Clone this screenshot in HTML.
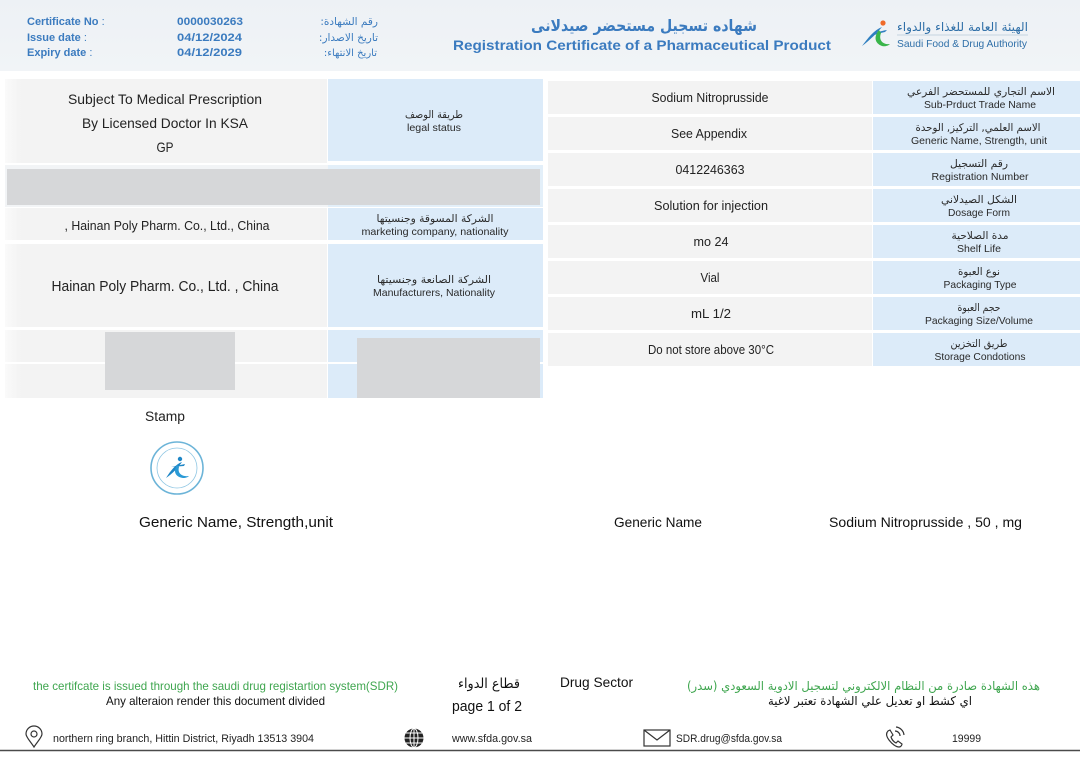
<!DOCTYPE html>
<html>
<head>
<meta charset="utf-8">
<style>
  html,body{margin:0;padding:0;background:#ffffff;}
  body{width:1080px;height:763px;overflow:hidden;}
  svg{display:block;}
  text{font-family:"Liberation Sans","DejaVu Sans",sans-serif;}
  .ar{font-family:"DejaVu Sans","Liberation Sans",sans-serif;}
</style>
</head>
<body>
<svg width="1080" height="763" viewBox="0 0 1080 763" xmlns="http://www.w3.org/2000/svg">
  <defs>
    <linearGradient id="hdr" x1="0" y1="0" x2="0" y2="1">
      <stop offset="0" stop-color="#edf1f5"/>
      <stop offset="1" stop-color="#f1f4f7"/>
    </linearGradient>
    <linearGradient id="fadeL" x1="0" y1="0" x2="1" y2="0">
      <stop offset="0" stop-color="#fafafa"/>
      <stop offset="0.05" stop-color="#f3f3f3"/>
      <stop offset="1" stop-color="#f3f3f3"/>
    </linearGradient>
  </defs>

  <rect x="0" y="0" width="1080" height="763" fill="#ffffff"/>

  <!-- HEADER -->
  <rect x="0" y="0" width="1080" height="71" fill="url(#hdr)"/>

  <g font-size="11" fill="#3b7bbf">
    <text x="27" y="25" font-weight="bold">Certificate No <tspan font-weight="normal">:</tspan></text>
    <text x="27" y="41" font-weight="bold">Issue date <tspan font-weight="normal">:</tspan></text>
    <text x="27" y="56" font-weight="bold">Expiry date <tspan font-weight="normal">:</tspan></text>
    <text x="177" y="25" font-weight="bold" textLength="66" lengthAdjust="spacingAndGlyphs">0000030263</text>
    <text x="177" y="41" font-weight="bold" textLength="65" lengthAdjust="spacingAndGlyphs">04/12/2024</text>
    <text x="177" y="56" font-weight="bold" textLength="65" lengthAdjust="spacingAndGlyphs">04/12/2029</text>
    <text class="ar" x="378" y="25" text-anchor="end" font-size="10.5">:رقم الشهادة</text>
    <text class="ar" x="378" y="41" text-anchor="end" font-size="10.5">:تاريخ الاصدار</text>
    <text class="ar" x="377" y="56" text-anchor="end" font-size="10">:تاريخ الانتهاء</text>
  </g>

  <text class="ar" x="644" y="31" text-anchor="middle" font-size="16" font-weight="bold" fill="#3b7bbf" textLength="226" lengthAdjust="spacingAndGlyphs">شهاده تسجيل مستحضر صيدلانى</text>
  <text x="642" y="50" text-anchor="middle" font-size="14" font-weight="bold" fill="#3b7bbf" textLength="378" lengthAdjust="spacingAndGlyphs">Registration Certificate of a Pharmaceutical Product</text>

  <!-- SFDA logo -->
  <g>
    <circle cx="883" cy="23" r="2.6" fill="#ef6a2a"/>
    <path d="M862 46 C868 38 874 30 882 27 C877 33 870 40 862 46 Z" fill="#2f7fc0"/>
    <path d="M870 36 C875 33 880 31 887 30 L885 32 C880 33 875 35 870 36 Z" fill="#2f7fc0"/>
    <path d="M879 30 C874 36 874 43 882 46 C886 47 889 45 890 44 C884 45 878 41 881 33 Z" fill="#39b54a"/>
    <text class="ar" x="1028" y="31" text-anchor="end" font-size="12" fill="#2f6fa8" textLength="131" lengthAdjust="spacingAndGlyphs">الهيئة العامة للغذاء والدواء</text>
    <line x1="897" y1="35" x2="1028" y2="35" stroke="#b9cad8" stroke-width="0.8"/>
    <text x="897" y="47" font-size="10.5" fill="#2f6fa8" textLength="130" lengthAdjust="spacingAndGlyphs">Saudi Food &amp; Drug Authority</text>
  </g>

  <!-- LEFT TABLE -->
  <rect x="5" y="79" width="322" height="84" fill="url(#fadeL)"/>
  <rect x="328" y="79" width="215" height="82" fill="#dcebf9"/>
  <rect x="5" y="165" width="538" height="42" fill="#f2f4f6"/>
  <rect x="328" y="165" width="215" height="42" fill="#e3eff9"/>
  <rect x="7" y="169" width="533" height="36" fill="#d6d7d9"/>
  <rect x="5" y="208" width="322" height="32" fill="url(#fadeL)"/>
  <rect x="328" y="208" width="215" height="32" fill="#dcebf9"/>
  <rect x="5" y="244" width="322" height="83" fill="url(#fadeL)"/>
  <rect x="328" y="244" width="215" height="83" fill="#dcebf9"/>
  <rect x="5" y="330" width="322" height="68" fill="url(#fadeL)"/>
  <rect x="328" y="330" width="215" height="68" fill="#dcebf9"/>
  <rect x="5" y="362" width="538" height="2" fill="#ffffff"/>
  <rect x="105" y="332" width="130" height="58" fill="#d6d7d9"/>
  <rect x="357" y="338" width="183" height="60" fill="#d6d7d9"/>

  <g fill="#222222">
    <text x="165" y="104" text-anchor="middle" font-size="14" textLength="194" lengthAdjust="spacingAndGlyphs">Subject To Medical Prescription</text>
    <text x="165" y="128" text-anchor="middle" font-size="14" textLength="166" lengthAdjust="spacingAndGlyphs">By Licensed Doctor In KSA</text>
    <text x="165" y="152" text-anchor="middle" font-size="14" textLength="17" lengthAdjust="spacingAndGlyphs">GP</text>
    <text x="167" y="230" text-anchor="middle" font-size="13" textLength="205" lengthAdjust="spacingAndGlyphs">, Hainan Poly Pharm. Co., Ltd., China</text>
    <text x="165" y="291" text-anchor="middle" font-size="14.5" textLength="227" lengthAdjust="spacingAndGlyphs">Hainan Poly Pharm. Co., Ltd. , China</text>
  </g>
  <g fill="#2a2a2a">
    <text class="ar" x="434" y="118" text-anchor="middle" font-size="10.5" textLength="58" lengthAdjust="spacingAndGlyphs">طريقة الوصف</text>
    <text x="434" y="131" text-anchor="middle" font-size="10.5" textLength="54" lengthAdjust="spacingAndGlyphs">legal status</text>
    <text class="ar" x="435" y="222" text-anchor="middle" font-size="10.5" textLength="117" lengthAdjust="spacingAndGlyphs">الشركة المسوقة وجنسيتها</text>
    <text x="435" y="235" text-anchor="middle" font-size="10.5" textLength="147" lengthAdjust="spacingAndGlyphs">marketing company, nationality</text>
    <text class="ar" x="434" y="283" text-anchor="middle" font-size="10.5" textLength="114" lengthAdjust="spacingAndGlyphs">الشركة الصانعة وجنسيتها</text>
    <text x="434" y="296" text-anchor="middle" font-size="10.5" textLength="122" lengthAdjust="spacingAndGlyphs">Manufacturers, Nationality</text>
  </g>

  <!-- RIGHT TABLE -->
  <g>
    <rect x="548" y="81" width="324" height="33" fill="#f3f3f3"/><rect x="873" y="81" width="207" height="33" fill="#dcebf9"/>
    <rect x="548" y="117" width="324" height="33" fill="#f3f3f3"/><rect x="873" y="117" width="207" height="33" fill="#dcebf9"/>
    <rect x="548" y="153" width="324" height="33" fill="#f3f3f3"/><rect x="873" y="153" width="207" height="33" fill="#dcebf9"/>
    <rect x="548" y="189" width="324" height="33" fill="#f3f3f3"/><rect x="873" y="189" width="207" height="33" fill="#dcebf9"/>
    <rect x="548" y="225" width="324" height="33" fill="#f3f3f3"/><rect x="873" y="225" width="207" height="33" fill="#dcebf9"/>
    <rect x="548" y="261" width="324" height="33" fill="#f3f3f3"/><rect x="873" y="261" width="207" height="33" fill="#dcebf9"/>
    <rect x="548" y="297" width="324" height="33" fill="#f3f3f3"/><rect x="873" y="297" width="207" height="33" fill="#dcebf9"/>
    <rect x="548" y="333" width="324" height="33" fill="#f3f3f3"/><rect x="873" y="333" width="207" height="33" fill="#dcebf9"/>
  </g>
  <g fill="#222222" font-size="13">
    <text x="710" y="102" text-anchor="middle" textLength="117" lengthAdjust="spacingAndGlyphs">Sodium Nitroprusside</text>
    <text x="709" y="138" text-anchor="middle" textLength="76" lengthAdjust="spacingAndGlyphs">See Appendix</text>
    <text x="710" y="174" text-anchor="middle" textLength="69" lengthAdjust="spacingAndGlyphs">0412246363</text>
    <text x="711" y="210" text-anchor="middle" textLength="114" lengthAdjust="spacingAndGlyphs">Solution for injection</text>
    <text x="711" y="246" text-anchor="middle" textLength="35" lengthAdjust="spacingAndGlyphs">mo 24</text>
    <text x="710" y="282" text-anchor="middle" textLength="19" lengthAdjust="spacingAndGlyphs">Vial</text>
    <text x="711" y="318" text-anchor="middle" textLength="40" lengthAdjust="spacingAndGlyphs">mL 1/2</text>
    <text x="711" y="354" text-anchor="middle" textLength="126" lengthAdjust="spacingAndGlyphs">Do not store above 30°C</text>
  </g>
  <g fill="#2a2a2a" font-size="10.5">
    <text class="ar" x="981" y="95" text-anchor="middle" textLength="148" lengthAdjust="spacingAndGlyphs">الاسم التجاري للمستحضر الفرعي</text>
    <text x="980" y="108" text-anchor="middle" textLength="112" lengthAdjust="spacingAndGlyphs">Sub-Prduct Trade Name</text>
    <text class="ar" x="978" y="131" text-anchor="middle" textLength="125" lengthAdjust="spacingAndGlyphs">الاسم العلمي, التركيز, الوحدة</text>
    <text x="979" y="144" text-anchor="middle" textLength="136" lengthAdjust="spacingAndGlyphs">Generic Name, Strength, unit</text>
    <text class="ar" x="979" y="167" text-anchor="middle" textLength="58" lengthAdjust="spacingAndGlyphs">رقم التسجيل</text>
    <text x="980" y="180" text-anchor="middle" textLength="97" lengthAdjust="spacingAndGlyphs">Registration Number</text>
    <text class="ar" x="979" y="203" text-anchor="middle" textLength="76" lengthAdjust="spacingAndGlyphs">الشكل الصيدلاني</text>
    <text x="979" y="216" text-anchor="middle" textLength="62" lengthAdjust="spacingAndGlyphs">Dosage Form</text>
    <text class="ar" x="980" y="239" text-anchor="middle" textLength="57" lengthAdjust="spacingAndGlyphs">مدة الصلاحية</text>
    <text x="979" y="252" text-anchor="middle" textLength="44" lengthAdjust="spacingAndGlyphs">Shelf Life</text>
    <text class="ar" x="979" y="275" text-anchor="middle" textLength="42" lengthAdjust="spacingAndGlyphs">نوع العبوة</text>
    <text x="980" y="288" text-anchor="middle" textLength="73" lengthAdjust="spacingAndGlyphs">Packaging Type</text>
    <text class="ar" x="979" y="311" text-anchor="middle" textLength="43" lengthAdjust="spacingAndGlyphs">حجم العبوة</text>
    <text x="979" y="324" text-anchor="middle" textLength="108" lengthAdjust="spacingAndGlyphs">Packaging Size/Volume</text>
    <text class="ar" x="979" y="347" text-anchor="middle" textLength="57" lengthAdjust="spacingAndGlyphs">طريق التخزين</text>
    <text x="980" y="360" text-anchor="middle" textLength="91" lengthAdjust="spacingAndGlyphs">Storage Condotions</text>
  </g>

  <!-- STAMP -->
  <text x="145" y="421" font-size="13.5" fill="#222222" textLength="40" lengthAdjust="spacingAndGlyphs">Stamp</text>
  <g>
    <circle cx="177" cy="468" r="26" fill="none" stroke="#6cb4d8" stroke-width="1.6"/>
    <circle cx="177" cy="468" r="20" fill="none" stroke="#8ec6e3" stroke-width="0.8"/>
    <circle cx="180" cy="459" r="2.2" fill="#1e86c6"/>
    <path d="M166 478 C171 470 176 464 182 462 C178 468 172 474 166 478 Z" fill="#1e86c6"/>
    <path d="M171 467 L185 464 L184 466 Z" fill="#1e86c6"/>
    <path d="M177 465 C173 471 175 477 183 478 C186 478 188 477 189 476 C183 477 177 474 179 467 Z" fill="#2a9ad6"/>
  </g>

  <!-- GENERIC NAME ROW -->
  <text x="139" y="527" font-size="15" fill="#111111" textLength="194" lengthAdjust="spacingAndGlyphs">Generic Name, Strength,unit</text>
  <text x="614" y="527" font-size="14" fill="#111111" textLength="88" lengthAdjust="spacingAndGlyphs">Generic Name</text>
  <text x="829" y="527" font-size="14" fill="#111111" textLength="193" lengthAdjust="spacingAndGlyphs">Sodium Nitroprusside , 50 , mg</text>

  <!-- FOOTER -->
  <text x="33" y="690" font-size="12" fill="#3fa64f" textLength="365" lengthAdjust="spacingAndGlyphs">the certifcate is issued through the saudi drug registartion system(SDR)</text>
  <text x="106" y="705" font-size="12" fill="#111111" textLength="219" lengthAdjust="spacingAndGlyphs">Any alteraion render this document divided</text>
  <text class="ar" x="489" y="688" text-anchor="middle" font-size="13.5" fill="#111111" textLength="62" lengthAdjust="spacingAndGlyphs">قطاع الدواء</text>
  <text x="452" y="711" font-size="14.5" fill="#111111" textLength="70" lengthAdjust="spacingAndGlyphs">page 1 of 2</text>
  <text x="560" y="687" font-size="14" fill="#111111" textLength="73" lengthAdjust="spacingAndGlyphs">Drug Sector</text>
  <text class="ar" x="1040" y="690" text-anchor="end" font-size="12" fill="#3fa64f" textLength="353" lengthAdjust="spacingAndGlyphs">هذه الشهادة صادرة من النظام الالكتروني لتسجيل الادوية السعودي (سدر)</text>
  <text class="ar" x="972" y="705" text-anchor="end" font-size="12" fill="#111111" textLength="204" lengthAdjust="spacingAndGlyphs">اي كشط او تعديل علي الشهادة تعتبر لاغية</text>

  <!-- contact row -->
  <g fill="none" stroke="#333333" stroke-width="1.2">
    <path d="M34 747 C30 741 26 737 26 734 A8 8 0 0 1 42 734 C42 737 38 741 34 747 Z"/>
    <circle cx="34" cy="734" r="3"/>
    <rect x="644" y="730" width="26" height="16"/>
    <path d="M644 730 L657 740 L670 730"/>
  </g>
  <g>
    <circle cx="414" cy="738" r="9.5" fill="#222222"/>
    <g stroke="#ffffff" stroke-width="1" fill="none">
      <ellipse cx="414" cy="738" rx="4" ry="9.5"/>
      <line x1="414" y1="728.5" x2="414" y2="747.5"/>
      <line x1="404.5" y1="738" x2="423.5" y2="738"/>
      <line x1="406" y1="733" x2="422" y2="733"/>
      <line x1="406" y1="743" x2="422" y2="743"/>
    </g>
  </g>
  <g fill="none" stroke="#333333" stroke-width="1.2">
    <path d="M888 731 C886 733 886 736 889 740 C892 744 896 747 899 747 C901 747 902 745 902 744 L898 741 L896 743 C894 742 892 740 891 737 L893 735 L890 730 Z"/>
    <path d="M895 731 A5 5 0 0 1 900 736"/>
    <path d="M896 727 A9 9 0 0 1 904 735"/>
  </g>
  <g font-size="11" fill="#222222">
    <text x="53" y="742" textLength="261" lengthAdjust="spacingAndGlyphs">northern ring branch, Hittin District, Riyadh 13513 3904</text>
    <text x="452" y="742" textLength="80" lengthAdjust="spacingAndGlyphs">www.sfda.gov.sa</text>
    <text x="676" y="742" textLength="106" lengthAdjust="spacingAndGlyphs">SDR.drug@sfda.gov.sa</text>
    <text x="952" y="742" textLength="29" lengthAdjust="spacingAndGlyphs">19999</text>
  </g>
  <line x1="0" y1="750.5" x2="1080" y2="750.5" stroke="#4a4a4a" stroke-width="1.5"/>
</svg>
</body>
</html>
